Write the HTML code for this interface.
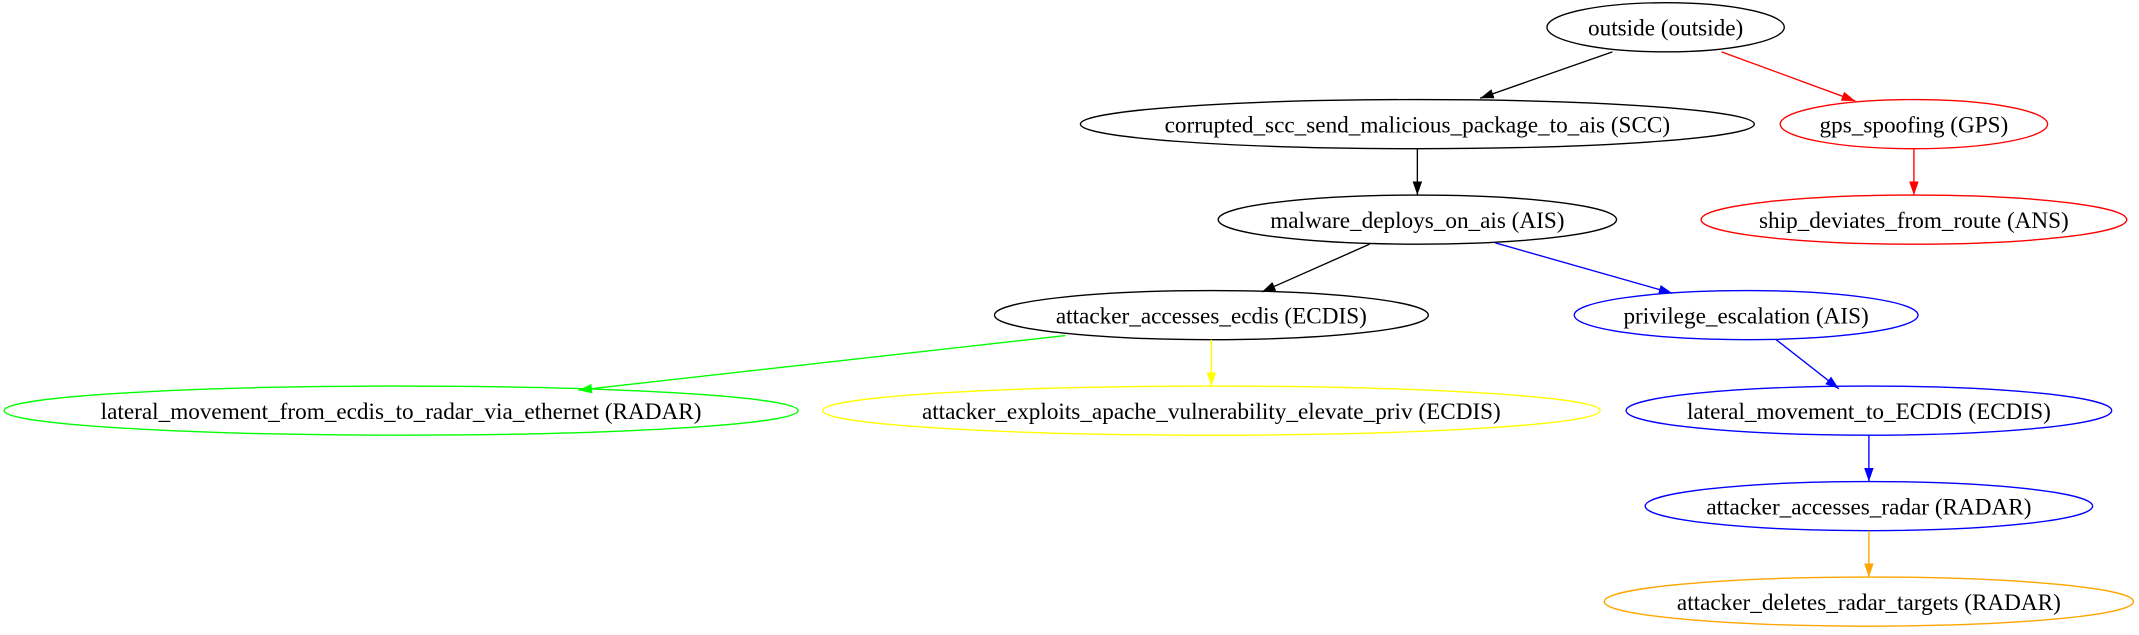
<!DOCTYPE html>
<html><head><meta charset="utf-8"><style>html,body{margin:0;padding:0;background:#fff}svg{display:block}</style></head>
<body>
<svg width="2139" height="635" viewBox="0 0 1568 465.5" preserveAspectRatio="none" xmlns="http://www.w3.org/2000/svg" font-family="'Liberation Serif', serif" font-size="17" text-anchor="middle">
<defs>
<marker id="a" viewBox="0 0 10 10" refX="10" refY="5" markerWidth="10" markerHeight="10" markerUnits="userSpaceOnUse" orient="auto"><path d="M0,1.5L10,5L0,8.5z" fill="context-stroke"/></marker>
</defs>
<g fill="none" stroke-width="1">
<ellipse cx="1221" cy="20" rx="87" ry="18" stroke="#000"/>
<ellipse cx="1039" cy="91" rx="247" ry="18" stroke="#000"/>
<ellipse cx="1403" cy="91" rx="98" ry="18" stroke="#f00"/>
<ellipse cx="1039" cy="161" rx="146" ry="18" stroke="#000"/>
<ellipse cx="1403" cy="161" rx="156" ry="18" stroke="#f00"/>
<ellipse cx="888" cy="231" rx="159" ry="18" stroke="#000"/>
<ellipse cx="1280" cy="231" rx="126" ry="18" stroke="#00f"/>
<ellipse cx="294" cy="301" rx="291" ry="18" stroke="#0f0"/>
<ellipse cx="888" cy="301" rx="285" ry="18" stroke="#ff0"/>
<ellipse cx="1370" cy="301" rx="178" ry="18" stroke="#00f"/>
<ellipse cx="1370" cy="371" rx="164" ry="18" stroke="#00f"/>
<ellipse cx="1370" cy="441" rx="194" ry="18" stroke="#ffa500"/>
</g>
<g fill="none">
<line x1="1182" y1="38" x2="1085" y2="72" stroke="#000" marker-end="url(#a)"/>
<line x1="1262" y1="38" x2="1360" y2="74" stroke="#f00" marker-end="url(#a)"/>
<line x1="1039" y1="109" x2="1039" y2="143" stroke="#000" marker-end="url(#a)"/>
<line x1="1403" y1="109" x2="1403" y2="143" stroke="#f00" marker-end="url(#a)"/>
<line x1="1004" y1="179" x2="925" y2="214" stroke="#000" marker-end="url(#a)"/>
<line x1="1096" y1="178" x2="1226" y2="215" stroke="#00f" marker-end="url(#a)"/>
<line x1="781" y1="246" x2="424" y2="286" stroke="#0f0" marker-end="url(#a)"/>
<line x1="888" y1="249" x2="888" y2="283" stroke="#ff0" marker-end="url(#a)"/>
<line x1="1302" y1="249" x2="1348" y2="285" stroke="#00f" marker-end="url(#a)"/>
<line x1="1370" y1="319" x2="1370" y2="353" stroke="#00f" marker-end="url(#a)"/>
<line x1="1370" y1="389" x2="1370" y2="423" stroke="#ffa500" marker-end="url(#a)"/>
</g>
<g fill="#000">
<text x="1221" y="26">outside (outside)</text>
<text x="1039" y="97">corrupted_scc_send_malicious_package_to_ais (SCC)</text>
<text x="1403" y="97">gps_spoofing (GPS)</text>
<text x="1039" y="167">malware_deploys_on_ais (AIS)</text>
<text x="1403" y="167">ship_deviates_from_route (ANS)</text>
<text x="888" y="237">attacker_accesses_ecdis (ECDIS)</text>
<text x="1280" y="237">privilege_escalation (AIS)</text>
<text x="294" y="307">lateral_movement_from_ecdis_to_radar_via_ethernet (RADAR)</text>
<text x="888" y="307">attacker_exploits_apache_vulnerability_elevate_priv (ECDIS)</text>
<text x="1370" y="307">lateral_movement_to_ECDIS (ECDIS)</text>
<text x="1370" y="377">attacker_accesses_radar (RADAR)</text>
<text x="1370" y="447">attacker_deletes_radar_targets (RADAR)</text>
</g>
</svg>
</body></html>
